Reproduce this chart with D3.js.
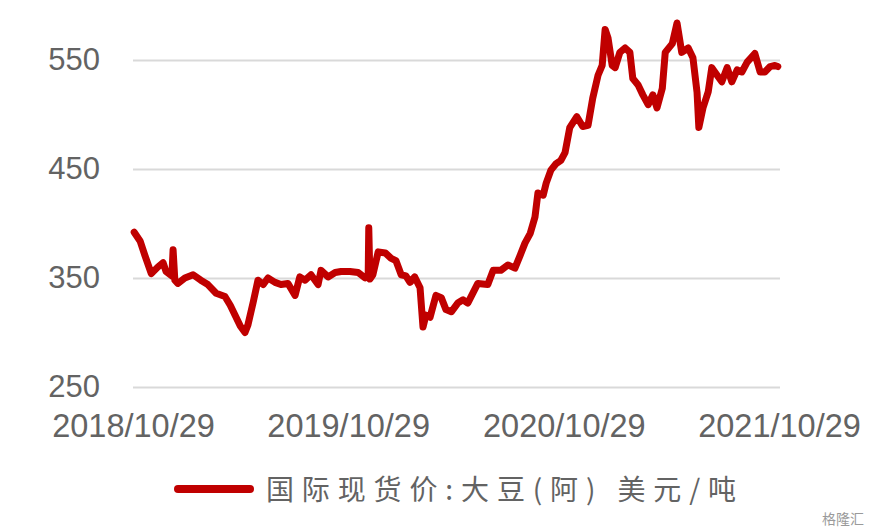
<!DOCTYPE html>
<html>
<head>
<meta charset="utf-8">
<script src="https://cdn.jsdelivr.net/npm/d3@7/dist/d3.min.js"></script>
<style>
  html, body { margin: 0; padding: 0; background: #ffffff; }
  svg { display: block; }
</style>
</head>
<body>
<svg id="chart" width="889" height="532"></svg>
<script>
// ---- data ----
const seriesName = "国际现货价:大豆(阿) 美元/吨";
const dates = [
  "2018-10-31","2018-11-10","2018-11-18","2018-11-29","2018-12-10","2018-12-19","2018-12-24",
  "2019-01-03","2019-01-05","2019-01-08","2019-01-13","2019-01-25","2019-02-08","2019-02-21",
  "2019-03-05","2019-03-19","2019-04-03","2019-04-12","2019-04-20","2019-04-29","2019-05-07",
  "2019-05-12","2019-05-21","2019-05-29","2019-06-07","2019-06-15","2019-06-27","2019-07-07",
  "2019-07-19","2019-07-31","2019-08-08","2019-08-17","2019-08-27","2019-09-08","2019-09-13",
  "2019-09-25","2019-10-07","2019-10-17","2019-11-01","2019-11-15","2019-11-27","2019-12-02",
  "2019-12-03","2019-12-05","2019-12-10","2019-12-19","2019-12-31","2020-01-10","2020-01-18",
  "2020-01-27","2020-02-04","2020-02-11","2020-02-19","2020-02-28","2020-03-04","2020-03-09",
  "2020-03-16","2020-03-26","2020-04-04","2020-04-12","2020-04-21","2020-05-02","2020-05-11",
  "2020-05-19","2020-06-05","2020-06-22","2020-07-01","2020-07-14","2020-07-26","2020-08-07",
  "2020-08-16","2020-08-24","2020-09-02","2020-09-10","2020-09-15","2020-09-24","2020-09-29",
  "2020-10-07","2020-10-16","2020-10-24","2020-10-31","2020-11-08","2020-11-20","2020-11-30",
  "2020-12-09","2020-12-17","2020-12-26","2021-01-02","2021-01-07","2021-01-12","2021-01-19",
  "2021-01-24","2021-02-01","2021-02-10","2021-02-18","2021-02-23","2021-03-04","2021-03-12",
  "2021-03-21","2021-03-29","2021-04-05","2021-04-14","2021-04-19","2021-05-01","2021-05-09",
  "2021-05-17","2021-05-28","2021-06-05","2021-06-12","2021-06-15","2021-06-22","2021-07-01",
  "2021-07-07","2021-07-16","2021-07-24","2021-08-02","2021-08-10","2021-08-19","2021-08-27",
  "2021-09-05","2021-09-18","2021-09-27","2021-10-05","2021-10-14","2021-10-22","2021-10-27"
];
const prices = [
  392,384,371,354,360,364,356,
  352,376,348,345,350,353,348,
  344,336,333,325,316,306,300,
  307,328,348,344,350,346,344,
  345,334,351,348,353,344,357,
  351,355,356,356,355,350,352,
  396,349,353,374,373,368,366,
  353,352,346,351,341,305,316,
  314,334,332,321,319,327,330,
  327,345,344,357,357,362,359,
  371,382,391,406,428,426,437,
  449,455,458,465,488,498,489,
  490,515,536,545,578,570,545,
  543,557,561,557,533,527,518,
  509,518,506,524,557,565,584,
  557,561,552,520,488,506,521,
  543,536,530,543,530,541,539,
  548,556,539,539,544,545,544
];
const yTicks = [250, 350, 450, 550];
const xTickDates = ["2018-10-29","2019-10-29","2020-10-29","2021-10-29"];

// ---- chart ----
(function () {
  const parse = d3.timeParse("%Y-%m-%d");
  const data = dates.map((d, i) => ({ date: parse(d), value: prices[i] }));

  const svg = d3.select("#chart");
  const mLeft = 133, mRight = 779, mTop = 60, mBottom = 387;

  const x = d3.scaleTime()
    .domain([parse(xTickDates[0]), parse(xTickDates[xTickDates.length - 1])])
    .range([mLeft, mRight]);
  const y = d3.scaleLinear().domain([250, 550]).range([mBottom, mTop]);

  const labelFont = "'Liberation Sans', Arial, sans-serif";
  const textColor = "#636363";

  // gridlines + y labels
  const yAxis = svg.append("g")
    .attr("transform", `translate(${mLeft},0)`)
    .call(d3.axisLeft(y).tickValues(yTicks).tickSize(-(mRight - mLeft + 1)).tickPadding(33).tickFormat(d3.format("d")));
  yAxis.select(".domain").remove();
  yAxis.selectAll(".tick line").attr("stroke", "#d9d9d9").attr("stroke-width", 2);
  yAxis.selectAll(".tick text")
    .attr("fill", textColor)
    .style("font-family", labelFont)
    .style("font-size", "31px");

  // x labels
  const xAxis = svg.append("g")
    .attr("transform", `translate(0,${mBottom})`)
    .call(d3.axisBottom(x).tickValues(xTickDates.map(parse)).tickSize(0).tickPadding(27).tickFormat(d3.timeFormat("%Y/%m/%d")));
  xAxis.select(".domain").remove();
  xAxis.selectAll(".tick text")
    .attr("fill", textColor)
    .style("font-family", labelFont)
    .style("font-size", "32.5px");

  // line
  const line = d3.line().x(d => x(d.date)).y(d => y(d.value));
  svg.append("path")
    .datum(data)
    .attr("fill", "none")
    .attr("stroke", "#c00000")
    .attr("stroke-width", 7)
    .attr("stroke-linejoin", "round")
    .attr("stroke-linecap", "round")
    .attr("d", line);

  // legend
  const lg = svg.append("g");
  lg.append("line")
    .attr("x1", 178).attr("x2", 250).attr("y1", 489).attr("y2", 489)
    .attr("stroke", "#c00000").attr("stroke-width", 8).attr("stroke-linecap", "round");
  lg.append("text")
    .attr("x", 266).attr("y", 500)
    .attr("fill", textColor)
    .attr("textLength", 470)
    .attr("lengthAdjust", "spacing")
    .style("font-family", "'Noto Sans CJK SC', sans-serif")
    .style("font-size", "28px")
    .text(seriesName);

  // watermark
  svg.append("text")
    .attr("x", 822).attr("y", 524)
    .attr("fill", "#9a9a9a")
    .style("font-family", "'Noto Sans CJK SC', sans-serif")
    .style("font-size", "14px")
    .text("格隆汇");
})();
</script>
</body>
</html>
